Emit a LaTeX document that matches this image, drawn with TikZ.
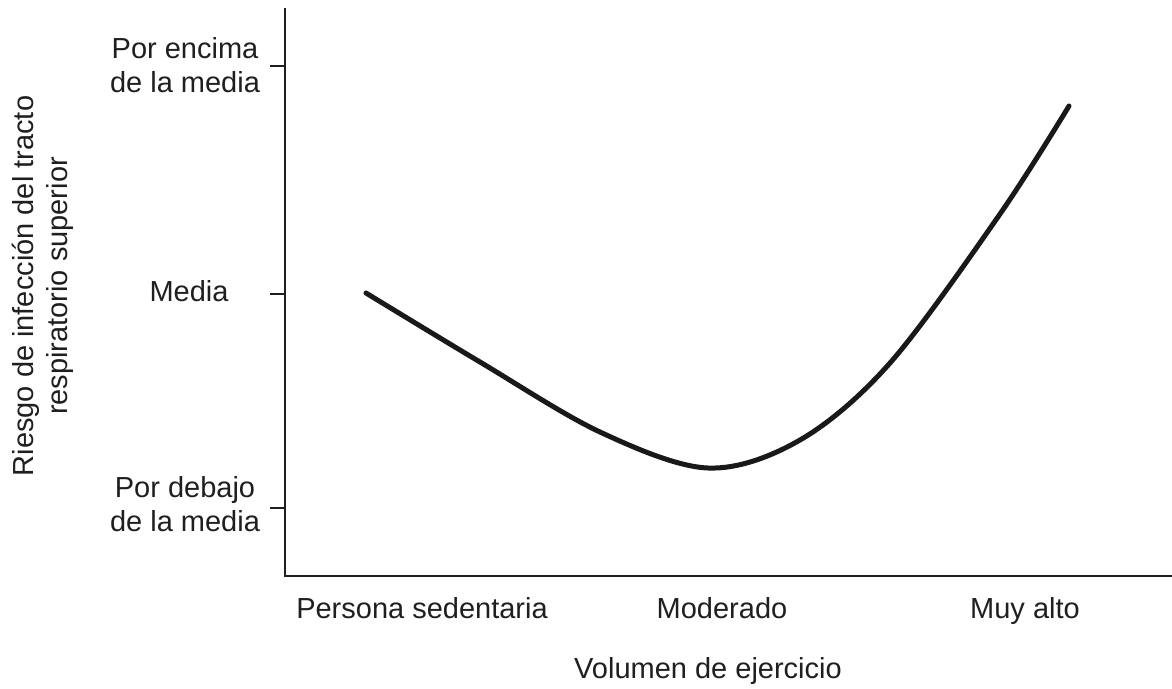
\documentclass[tikz,border=0pt]{standalone}
\usepackage{fontspec}
\setmainfont{Liberation Sans}
\begin{document}
\begin{tikzpicture}[x=1pt, y=-1pt,
    axis/.style = {line width=2.5pt, black!88},
    lbl/.style  = {font=\fontsize{29}{34}\selectfont, text=black!88, inner sep=0pt, align=center}]
  \useasboundingbox (0,0) rectangle (1172,688);
  \coordinate (top)   at (285,8);
  \coordinate (orig)  at (285,576);
  \coordinate (right) at (1172,576);
  \draw[axis] (top) -- (orig) -- (right);
  \foreach \y/\name in {66/hi, 294/mid, 508/lo}
    \draw[axis] (270,\y) coordinate (t\name) -- (285,\y);
  \node[lbl] (hi)  at (185,65)  {Por encima \\ de la media};
  \node[lbl] (mid) at (189,291) {Media};
  \node[lbl] (lo)  at (185,504) {Por debajo \\ de la media};
  \node[lbl, rotate=90] (ylab) at (43,286) {Riesgo de infección del tracto \\ respiratorio superior};
  \node[lbl, anchor=base] (sed) at (422,618) {Persona sedentaria};
  \node[lbl, anchor=base] (mod) at (722,618) {Moderado};
  \node[lbl, anchor=base] (alt) at (1025,618) {Muy alto};
  \node[lbl, anchor=base] (xlab) at (708,678) {Volumen de ejercicio};
  % curva de riesgo
  \draw[line width=5pt, line cap=round, black!90] plot[smooth, tension=0.55] coordinates
    {(366,293) (480,362) (600,432) (708,468) (800,440) (890,363) (1000,214) (1069,106)};
\end{tikzpicture}
\end{document}
